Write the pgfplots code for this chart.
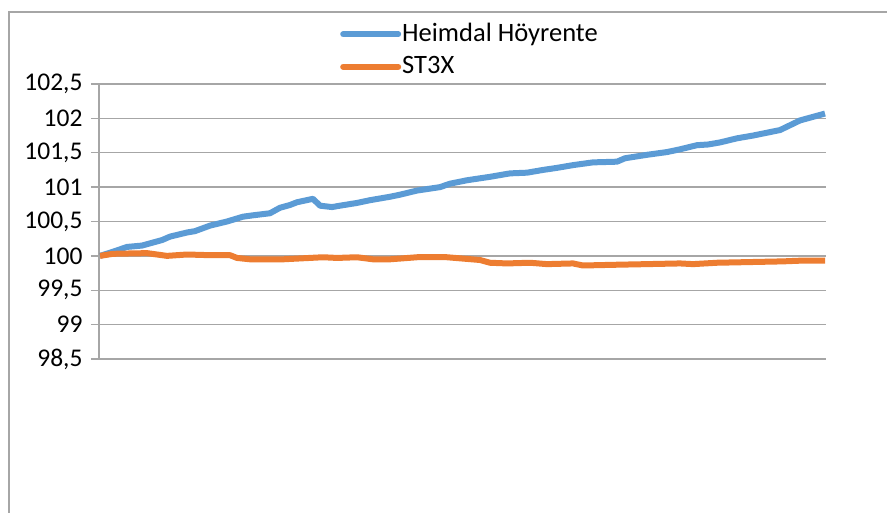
\documentclass[border=0pt]{standalone}
\usepackage{pgfplots}
\pgfplotsset{compat=1.18}
\usepackage{fontspec}
\setmainfont{Carlito}
\definecolor{sblue}{HTML}{5B9BD5}
\definecolor{sorange}{HTML}{ED7D31}
\definecolor{gridc}{HTML}{A6A6A6}
\begin{document}
\fontsize{25}{30}\selectfont
\begin{tikzpicture}[x=1pt,y=1pt]
\draw[gridc, line width=1.3pt] (9,-513) -- (9,-12) -- (887,-12);
\begin{axis}[
  at={(99pt,-359pt)}, anchor=south west,
  scale only axis, width=727pt, height=275pt,
  xmin=-1, xmax=726, ymin=98.5, ymax=102.5,
  axis x line=bottom, axis y line=left,
  axis line style={-, gridc, line width=1.3pt},
  xtick=\empty,
  ytick={98.5,99,99.5,100,100.5,101,101.5,102,102.5},
  yticklabels={{98,5},{99},{99,5},{100},{100,5},{101},{101,5},{102},{102,5}},
  yticklabel style={font=\fontsize{25.5}{30}\selectfont, anchor=east},
  tick align=outside, major tick length=8pt,
  tick style={gridc, line width=1.3pt},
  ymajorgrids, grid style={gridc, line width=1.3pt},
  clip=false,
  legend cell align=left,
  legend image code/.code={\draw[#1, line cap=round] (0pt,0pt) -- (55pt,0pt);},
  legend style={at={(axis description cs:0.3315,1.123)}, anchor=west, draw=none, fill=none,
    font=\fontsize{26.5}{30}\selectfont, row sep=9pt, inner sep=0pt,
    nodes={inner sep=1pt}},
]
\addplot[sblue, line width=6pt, line join=round] coordinates {
(0,100.00) (13,100.06) (27,100.13) (42,100.15) (62,100.23) (70,100.28) (87,100.34) (95,100.36)
(110,100.44) (127,100.50) (143,100.57) (153,100.59) (170,100.62) (180,100.70) (190,100.74)
(197,100.78) (213,100.83) (220,100.73) (232,100.71) (240,100.73) (257,100.77) (270,100.81)
(290,100.86) (300,100.89) (317,100.95) (340,101.00) (350,101.05) (367,101.10) (390,101.15)
(410,101.20) (427,101.21) (443,101.25) (457,101.28) (473,101.32) (493,101.36) (517,101.37)
(525,101.42) (547,101.47) (567,101.51) (580,101.55) (597,101.61) (608,101.62) (620,101.65)
(637,101.71) (653,101.75) (680,101.83) (700,101.97) (725,102.07)
};
\addlegendentry{Heimdal Höyrente}
\addplot[sorange, line width=6pt, line join=round] coordinates {
(0,100.00) (13,100.03) (47,100.04) (67,100.00) (87,100.02) (110,100.01) (130,100.01) (137,99.97)
(150,99.95) (183,99.95) (223,99.98) (237,99.97) (257,99.98) (273,99.95) (290,99.95) (317,99.98)
(347,99.98) (380,99.94) (390,99.90) (407,99.89) (430,99.90) (447,99.88) (473,99.89) (483,99.86)
(513,99.87) (547,99.88) (580,99.89) (593,99.88) (617,99.90) (683,99.92) (700,99.93) (725,99.93)
};
\addlegendentry{ST3X}
\end{axis}
\pgfresetboundingbox
\path[use as bounding box] (0,0) rectangle (887,-513);
\end{tikzpicture}
\end{document}
